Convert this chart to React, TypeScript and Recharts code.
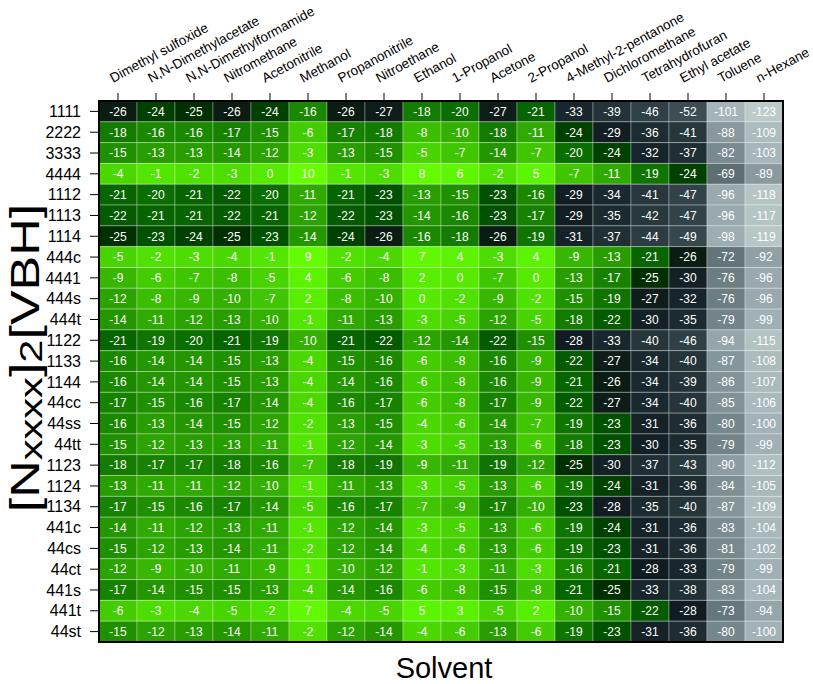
import { Scatter, ScatterChart, XAxis, YAxis } from "recharts"

const solvents = [
  "Dimethyl sulfoxide",
  "N,N-Dimethylacetate",
  "N,N-Dimethylformamide",
  "Nitromethane",
  "Acetonitrile",
  "Methanol",
  "Propanonitrile",
  "Nitroethane",
  "Ethanol",
  "1-Propanol",
  "Acetone",
  "2-Propanol",
  "4-Methyl-2-pentanone",
  "Dichloromethane",
  "Tetrahydrofuran",
  "Ethyl acetate",
  "Toluene",
  "n-Hexane",
]

const cations = [
  "1111", "2222", "3333", "4444", "1112", "1113", "1114", "444c", "4441", "444s",
  "444t", "1122", "1133", "1144", "44cc", "44ss", "44tt", "1123", "1124", "1134",
  "441c", "44cs", "44ct", "441s", "441t", "44st",
]

// one row per cation, one value per solvent
const energies: number[][] = [
  [-26, -24, -25, -26, -24, -16, -26, -27, -18, -20, -27, -21, -33, -39, -46, -52, -101, -123],
  [-18, -16, -16, -17, -15, -6, -17, -18, -8, -10, -18, -11, -24, -29, -36, -41, -88, -109],
  [-15, -13, -13, -14, -12, -3, -13, -15, -5, -7, -14, -7, -20, -24, -32, -37, -82, -103],
  [-4, -1, -2, -3, 0, 10, -1, -3, 8, 6, -2, 5, -7, -11, -19, -24, -69, -89],
  [-21, -20, -21, -22, -20, -11, -21, -23, -13, -15, -23, -16, -29, -34, -41, -47, -96, -118],
  [-22, -21, -21, -22, -21, -12, -22, -23, -14, -16, -23, -17, -29, -35, -42, -47, -96, -117],
  [-25, -23, -24, -25, -23, -14, -24, -26, -16, -18, -26, -19, -31, -37, -44, -49, -98, -119],
  [-5, -2, -3, -4, -1, 9, -2, -4, 7, 4, -3, 4, -9, -13, -21, -26, -72, -92],
  [-9, -6, -7, -8, -5, 4, -6, -8, 2, 0, -7, 0, -13, -17, -25, -30, -76, -96],
  [-12, -8, -9, -10, -7, 2, -8, -10, 0, -2, -9, -2, -15, -19, -27, -32, -76, -96],
  [-14, -11, -12, -13, -10, -1, -11, -13, -3, -5, -12, -5, -18, -22, -30, -35, -79, -99],
  [-21, -19, -20, -21, -19, -10, -21, -22, -12, -14, -22, -15, -28, -33, -40, -46, -94, -115],
  [-16, -14, -14, -15, -13, -4, -15, -16, -6, -8, -16, -9, -22, -27, -34, -40, -87, -108],
  [-16, -14, -14, -15, -13, -4, -14, -16, -6, -8, -16, -9, -21, -26, -34, -39, -86, -107],
  [-17, -15, -16, -17, -14, -4, -16, -17, -6, -8, -17, -9, -22, -27, -34, -40, -85, -106],
  [-16, -13, -14, -15, -12, -2, -13, -15, -4, -6, -14, -7, -19, -23, -31, -36, -80, -100],
  [-15, -12, -13, -13, -11, -1, -12, -14, -3, -5, -13, -6, -18, -23, -30, -35, -79, -99],
  [-18, -17, -17, -18, -16, -7, -18, -19, -9, -11, -19, -12, -25, -30, -37, -43, -90, -112],
  [-13, -11, -11, -12, -10, -1, -11, -13, -3, -5, -13, -6, -19, -24, -31, -36, -84, -105],
  [-17, -15, -16, -17, -14, -5, -16, -17, -7, -9, -17, -10, -23, -28, -35, -40, -87, -109],
  [-14, -11, -12, -13, -11, -1, -12, -14, -3, -5, -13, -6, -19, -24, -31, -36, -83, -104],
  [-15, -12, -13, -14, -11, -2, -12, -14, -4, -6, -13, -6, -19, -23, -31, -36, -81, -102],
  [-12, -9, -10, -11, -9, 1, -10, -12, -1, -3, -11, -3, -16, -21, -28, -33, -79, -99],
  [-17, -14, -15, -15, -13, -4, -14, -16, -6, -8, -15, -8, -21, -25, -33, -38, -83, -104],
  [-6, -3, -4, -5, -2, 7, -4, -5, 5, 3, -5, 2, -10, -15, -22, -28, -73, -94],
  [-15, -12, -13, -14, -11, -2, -12, -14, -4, -6, -13, -6, -19, -23, -31, -36, -80, -100],
]

// colour scale stops: value -> colour
const scaleStops: [number, string][] = [
  [-123, "#bccaca"],
  [-101, "#a4b4b8"],
  [-90, "#8c9ca0"],
  [-70, "#5f7175"],
  [-52, "#3c4d53"],
  [-46, "#2f4046"],
  [-40, "#253539"],
  [-33, "#18272d"],
  [-28, "#101c22"],
  [-26, "#0b1c12"],
  [-25, "#003000"],
  [-23, "#005200"],
  [-20, "#0b6e00"],
  [-15, "#1f9000"],
  [-10, "#33b000"],
  [-5, "#47d400"],
  [0, "#55ea00"],
  [5, "#5cf500"],
  [10, "#66ff00"],
]

const FONT = "'Liberation Sans', Arial, sans-serif"
const W = 813
const H = 684
const margin = { top: 0, right: 30, bottom: 42, left: 0 }
const X_AXIS_H = 101
const Y_AXIS_W = 99
const plotLeft = margin.left + Y_AXIS_W
const plotTop = margin.top + X_AXIS_H
const plotW = W - margin.left - margin.right - Y_AXIS_W
const plotH = H - margin.top - margin.bottom - X_AXIS_H
const cellW = plotW / solvents.length
const cellH = plotH / cations.length

const hexToRgb = (h: string) => [1, 3, 5].map((i) => parseInt(h.slice(i, i + 2), 16))

function colorFor(v: number) {
  if (v <= scaleStops[0][0]) return scaleStops[0][1]
  for (let i = 1; i < scaleStops.length; i++) {
    const [v1, c1] = scaleStops[i]
    if (v <= v1) {
      const [v0, c0] = scaleStops[i - 1]
      const t = (v - v0) / (v1 - v0)
      const a = hexToRgb(c0)
      const b = hexToRgb(c1)
      const rgb = a.map((x, k) => Math.round(x + (b[k] - x) * t))
      return `rgb(${rgb.join(",")})`
    }
  }
  return scaleStops[scaleStops.length - 1][1]
}

const cells = cations.flatMap((c, i) => solvents.map((s, j) => ({ x: j, y: i, v: energies[i][j] })))

const HeatCell = (props: any) => {
  const { cx, cy, payload } = props
  return (
    <g>
      <rect
        x={cx - cellW / 2}
        y={cy - cellH / 2}
        width={cellW}
        height={cellH}
        fill={colorFor(payload.v)}
        stroke="rgba(255,255,255,0.3)"
        strokeWidth={1}
      />
      <text x={cx} y={cy} dy="0.36em" textAnchor="middle" fill="#fff" fontSize={12} fontFamily={FONT}>
        {payload.v}
      </text>
    </g>
  )
}

const SolventTick = (props: any) => {
  const { x, y, payload } = props
  const tx = x - 5
  return (
    <text x={tx} y={y} transform={`rotate(-28.5 ${tx} ${y})`} textAnchor="start" fontSize={13.5} fontFamily={FONT} fill="#000">
      {solvents[payload.value]}
    </text>
  )
}

export default function App() {
  return (
    <div style={{ position: "relative", width: W, height: H, background: "#fff" }}>
      <style>{`body{margin:0}`}</style>
      <ScatterChart width={W} height={H} margin={margin}>
        <XAxis
          type="number"
          dataKey="x"
          orientation="top"
          domain={[-0.5, solvents.length - 0.5]}
          ticks={solvents.map((_, j) => j)}
          interval={0}
          allowDataOverflow
          height={X_AXIS_H}
          axisLine={false}
          tickLine={{ stroke: "#000" }}
          tickSize={8}
          tickMargin={10}
          tick={<SolventTick />}
        />
        <YAxis
          type="number"
          dataKey="y"
          reversed
          domain={[-0.5, cations.length - 0.5]}
          ticks={cations.map((_, i) => i)}
          interval={0}
          allowDataOverflow
          width={Y_AXIS_W}
          axisLine={false}
          tickLine={{ stroke: "#000" }}
          tickSize={9}
          tickMargin={9}
          tickFormatter={(i: number) => cations[i]}
          tick={{ fill: "#000", fontSize: 16, fontFamily: FONT }}
        />
        <Scatter data={cells} shape={HeatCell} isAnimationActive={false} />
      </ScatterChart>
      <svg width={W} height={H} style={{ position: "absolute", left: 0, top: 0, pointerEvents: "none" }}>
        <rect x={plotLeft} y={plotTop} width={plotW} height={plotH} fill="none" stroke="#000" strokeWidth={2} />
        <text
          transform={`translate(39 358) rotate(-90) scale(1.3 1)`}
          textAnchor="middle"
          fontSize={40}
          fontFamily={FONT}
          fill="#000"
        >
          [N<tspan fontSize={32} dy={3}>xxxx</tspan>
          <tspan dy={-3}>]</tspan>
          <tspan fontSize={32} dy={3}>2</tspan>
          <tspan dy={-3}>[VBH]</tspan>
        </text>
        <text x={plotLeft + plotW / 2 + 3} y={678} textAnchor="middle" fontSize={29} fontFamily={FONT} fill="#000">
          Solvent
        </text>
      </svg>
    </div>
  )
}
